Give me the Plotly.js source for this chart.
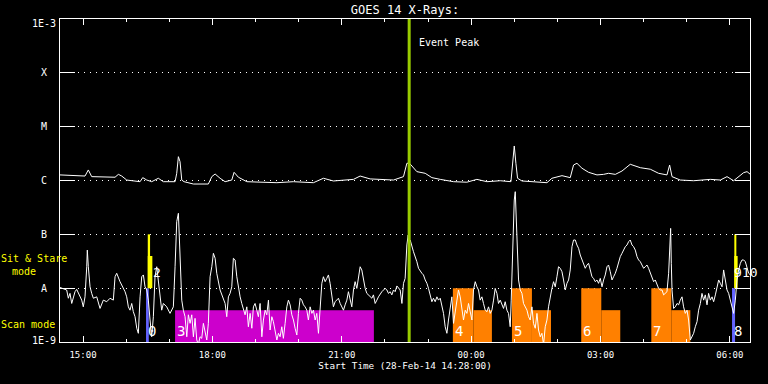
<!DOCTYPE html>
<html><head><meta charset="utf-8">
<script src="https://cdn.plot.ly/plotly-3.0.1.min.js"></script>
<style>html,body{margin:0;padding:0;background:#000;}#chart{width:768px;height:384px;}</style>
</head><body><div id="chart"></div>
<script>
// Start of the plotted interval (elapsed minutes below are counted from here)
const START_UTC = Date.UTC(2014, 1, 28, 14, 28, 0);
const SPAN_MIN = 960;

// GOES 14 long channel (1-8 Å), W/m^2
const longMin = [0,34.8,39.4,44.1,76.6,81.2,85.9,92.8,111.4,115.1,120.7,127.6,136.8,143.8,160.1,162.4,164.7,167.0,169.4,172.6,185.6,206.4,211.2,215.8,222.7,229.7,239.0,242.2,248.2,259.9,301.7,324.8,352.6,366.5,380.4,408.3,417.6,431.5,464.0,477.9,482.6,486.2,489.6,496.5,508.1,517.4,529.0,547.5,566.1,580.0,594.0,612.5,627.4,629.6,632.0,634.3,636.6,642.7,668.2,677.5,684.4,698.4,709.9,714.5,719.2,726.2,735.4,747.1,756.3,763.2,772.6,781.9,793.4,807.4,821.3,832.8,844.5,848.2,851.5,863.0,881.5,904.8,918.7,928.0,937.2,951.2,955.9,960.5];
const longFlux = [1.27e-6,1.21e-6,1.57e-6,1.18e-6,1.15e-6,1.30e-6,1.21e-6,1.02e-6,9.5e-7,1.13e-6,1.02e-6,9.5e-7,1.10e-6,9.5e-7,9.5e-7,1.36e-6,2.77e-6,2.24e-6,1.02e-6,9.5e-7,8.6e-7,8.6e-7,1.18e-6,1.32e-6,1.10e-6,9.5e-7,1.02e-6,1.42e-6,1.15e-6,9.5e-7,9.1e-7,9.5e-7,9.1e-7,1.10e-6,9.8e-7,1.05e-6,1.21e-6,1.07e-6,1.02e-6,1.18e-6,2.09e-6,2.09e-6,1.86e-6,1.46e-6,1.36e-6,1.13e-6,1.05e-6,9.5e-7,9.3e-7,1.05e-6,9.5e-7,9.9e-7,9.5e-7,2.09e-6,4.38e-6,2.09e-6,1.10e-6,9.8e-7,9.1e-7,9.1e-7,1.10e-6,1.23e-6,1.13e-6,1.94e-6,2.09e-6,1.69e-6,1.42e-6,1.27e-6,1.30e-6,1.36e-6,1.30e-6,1.50e-6,2.00e-6,1.73e-6,1.62e-6,1.36e-6,1.27e-6,1.94e-6,1.18e-6,1.02e-6,9.9e-7,1.05e-6,1.02e-6,1.18e-6,9.9e-7,1.40e-6,1.46e-6,1.30e-6];

// GOES 14 short channel (0.5-4 Å), W/m^2
const shortMin = [0,4.6,9.3,11.6,13.9,16.3,18.5,20.9,23.2,25.5,27.8,30.2,32.4,34.8,37.2,38.0,39.4,41.8,44.1,46.4,51.1,55.7,60.3,65.0,69.6,74.2,76.6,78.9,83.5,88.1,90.5,92.8,95.1,97.4,99.8,102.0,104.4,106.8,109.0,111.4,113.7,116.0,118.3,120.7,122.9,125.3,127.6,129.9,132.2,134.6,136.8,139.2,141.5,143.8,148.5,153.1,157.7,160.1,162.4,164.7,167.0,169.4,171.6,174.0,176.4,178.6,181.0,183.3,185.6,187.9,190.3,192.5,194.9,197.2,199.5,201.8,204.2,206.4,208.8,211.2,213.4,215.8,218.1,222.7,227.3,229.7,232.0,234.3,236.6,239.0,241.2,243.6,246.0,248.2,
250.6,252.9,255.2,257.5,259.9,262.1,264.5,266.9,269.1,271.4,273.8,276.0,278.4,280.8,283.0,285.4,287.7,290.0,292.3,294.7,296.9,299.3,301.7,303.9,306.2,308.6,310.8,313.2,315.6,317.8,320.2,322.5,324.8,327.1,329.5,331.7,334.1,336.4,338.7,341.0,343.4,345.6,348.0,350.4,352.6,355.0,357.3,359.6,361.9,364.3,366.5,368.9,371.2,373.5,375.8,378.2,380.4,382.8,385.1,387.4,389.8,392.1,394.4,396.7,399.1,401.3,403.7,406.0,408.3,410.6,413.0,415.2,417.6,419.9,422.2,424.6,426.9,429.2,433.9,436.1,438.5,440.9,443.1,447.8,452.4,454.8,457.0,459.4,461.7,464.0,466.3,468.7,470.9,473.3,475.7,477.9,480.2,482.6,484.4,485.8,487.2,
489.6,491.8,496.5,498.8,503.5,505.7,508.1,510.5,512.7,515.0,517.4,519.6,522.0,524.4,526.6,529.0,531.3,533.6,535.9,538.3,540.5,542.9,545.2,547.5,549.8,552.2,554.4,556.8,559.2,561.4,563.8,566.1,568.4,570.7,573.1,575.3,577.7,580.0,582.3,584.6,587.0,589.2,591.6,594.0,596.2,598.6,600.9,603.2,605.5,607.9,610.1,612.5,614.8,617.1,619.4,621.8,624.0,626.4,627.8,628.8,630.2,632.0,633.4,634.8,635.7,638.0,640.3,642.7,644.9,647.3,649.7,651.9,654.2,656.6,658.8,661.2,663.6,665.8,668.2,670.5,672.8,675.1,677.5,679.7,682.1,684.4,686.7,689.0,691.4,693.6,696.0,698.4,700.6,703.0,705.3,707.6,709.9,712.3,714.5,716.9,719.2,721.5,723.8,726.2,728.4,730.8,
733.2,735.4,737.8,740.1,742.4,744.7,747.1,749.3,751.7,754.1,756.3,758.6,761.0,763.2,765.6,768.0,770.2,772.6,774.9,777.2,779.5,781.9,784.1,786.5,788.9,791.1,793.4,795.8,798.0,800.4,802.8,805.0,807.4,809.7,812.0,814.3,816.7,818.9,821.3,823.6,825.9,828.2,830.6,832.8,835.2,837.6,839.8,842.2,844.5,846.8,848.2,849.6,850.5,851.5,853.7,856.1,858.5,860.7,863.0,865.4,867.6,870.0,872.4,874.6,877.0,879.3,881.6,883.9,886.3,888.5,890.9,893.2,895.5,897.8,900.2,902.4,904.8,907.2,909.4,911.8,914.1,916.4,918.7,921.1,923.3,925.7,928.0,930.3,932.6,935.0,937.2,939.6,941.9,944.2,946.6,948.9,951.2,953.5,955.9,958.1,960.5];
const shortFlux = [1.03e-8,9.9e-9,9.25e-9,6.5e-9,8.0e-9,5.2e-9,6.9e-9,8.6e-9,9.5e-9,8.0e-9,6.9e-9,6.0e-9,4.5e-9,6.9e-9,2.5e-8,5.1e-8,2.5e-8,1.06e-8,8.0e-9,6.5e-9,6.9e-9,4.2e-9,6.0e-9,5.6e-9,6.5e-9,6.0e-9,1.63e-8,1.89e-8,1.32e-8,9.9e-9,8.6e-9,6.9e-9,4.5e-9,3.9e-9,5.2e-9,3.66e-9,2.95e-9,1.8e-9,1.45e-9,6.9e-9,1.63e-8,1.76e-8,1.06e-8,9.25e-9,6.0e-9,2.56e-9,1.25e-9,2.95e-9,1.63e-8,2.5e-8,1.42e-8,6.9e-9,3.9e-9,5.2e-9,4.5e-9,3.4e-9,4.5e-9,2.5e-8,1.72e-7,2.46e-7,5.1e-8,6.0e-9,3.9e-9,2.95e-9,1.25e-9,3.2e-9,2.22e-9,3.2e-9,1.25e-9,2.75e-9,1.09e-9,9e-10,1.25e-9,1.17e-9,2.22e-9,1.45e-9,1.09e-9,2.22e-9,1.63e-8,2.5e-8,4.44e-8,3.59e-8,1.89e-8,9.25e-9,6.0e-9,5.2e-9,2.95e-9,6.9e-9,8.0e-9,1.06e-8,3.59e-8,3.34e-8,1.63e-8,1.06e-8,
6.9e-9,5.2e-9,3.9e-9,3.2e-9,4.5e-9,1.92e-9,3.4e-9,1.8e-9,4.5e-9,5.2e-9,3.9e-9,2.95e-9,5.2e-9,1.25e-9,2.56e-9,3.9e-9,3.2e-9,6.0e-9,1.67e-9,2.95e-9,2.38e-9,1.67e-9,1.09e-9,1.45e-9,1.25e-9,1.92e-9,1.17e-9,2.22e-9,4.5e-9,6.0e-9,4.9e-9,3.2e-9,2.56e-9,1.8e-9,1.35e-9,3.4e-9,6.5e-9,6.0e-9,4.9e-9,4.5e-9,3.9e-9,2.56e-9,4.5e-9,3.4e-9,3.9e-9,2.56e-9,3.4e-9,1.45e-9,3.9e-9,1.23e-8,1.63e-8,1.32e-8,1.52e-8,1.76e-8,1.23e-8,8.0e-9,4.5e-9,5.6e-9,6.0e-9,6.5e-9,5.2e-9,4.5e-9,3.9e-9,4.9e-9,6.0e-9,8.6e-9,6.0e-9,4.5e-9,9.25e-9,1.32e-8,9.9e-9,1.76e-8,2.5e-8,2.18e-8,1.42e-8,9.9e-9,8.0e-9,7.5e-9,6.5e-9,7.5e-9,5.2e-9,6.0e-9,6.9e-9,8.6e-9,9.9e-9,9.25e-9,8.0e-9,8.6e-9,7.5e-9,9.25e-9,8.6e-9,1.1e-8,9.9e-9,9.25e-9,5.2e-9,1.23e-8,1.52e-8,6.34e-8,9.7e-8,6.8e-8,7.85e-8,
6.34e-8,4.76e-8,3.10e-8,2.34e-8,1.89e-8,1.76e-8,1.42e-8,1.23e-8,9.9e-9,7.5e-9,5.6e-9,6.5e-9,5.6e-9,6.9e-9,6.0e-9,6.5e-9,4.5e-9,3.4e-9,1.92e-9,1.45e-9,2.56e-9,4.5e-9,6.9e-9,2.22e-9,3.66e-9,6.0e-9,9.25e-9,6.9e-9,4.5e-9,2.56e-9,3.9e-9,3.4e-9,5.2e-9,3.4e-9,2.56e-9,9.25e-9,1.32e-8,1.06e-8,9.25e-9,6.0e-9,6.9e-9,5.2e-9,3.9e-9,3.66e-9,4.5e-9,3.4e-9,3.9e-9,6.0e-9,9.9e-9,8.0e-9,5.2e-9,6.0e-9,4.9e-9,4.2e-9,5.6e-9,3.9e-9,3.4e-9,1.92e-9,6.0e-9,2.18e-8,1.04e-7,4.34e-7,6.2e-7,1.85e-7,5.89e-8,1.42e-8,9.25e-9,8.0e-9,5.2e-9,4.5e-9,3.9e-9,2.95e-9,2.56e-9,4.5e-9,2.22e-9,1.8e-9,3.4e-9,1.67e-9,1.25e-9,1.45e-9,9e-10,1.92e-9,2.56e-9,4.5e-9,7.5e-9,9.9e-9,1.32e-8,1.06e-8,1.63e-8,2.5e-8,2.34e-8,2.02e-8,1.42e-8,9.25e-9,1.23e-8,1.42e-8,2.18e-8,5.89e-8,7.85e-8,7.85e-8,6.34e-8,5.5e-8,4.13e-8,3.34e-8,2.9e-8,2.34e-8,
2.69e-8,2.9e-8,2.18e-8,1.63e-8,1.52e-8,1.32e-8,1.42e-8,1.23e-8,1.52e-8,1.06e-8,1.42e-8,1.76e-8,2.5e-8,2.69e-8,2.02e-8,1.42e-8,1.63e-8,1.89e-8,2.34e-8,3.1e-8,3.85e-8,4.44e-8,5.1e-8,5.9e-8,6.34e-8,7.3e-8,7.85e-8,6.34e-8,5.9e-8,5.1e-8,3.85e-8,3.34e-8,3.1e-8,2.69e-8,2.34e-8,2.5e-8,2.69e-8,2.34e-8,1.89e-8,1.63e-8,1.32e-8,1.42e-8,1.15e-8,9.9e-9,9.25e-9,9.25e-9,7.5e-9,8.0e-9,8.6e-9,1.89e-8,5.9e-8,1.29e-7,2.9e-8,9.25e-9,4.2e-9,4.5e-9,5.2e-9,4.9e-9,6.0e-9,6.9e-9,4.5e-9,3.4e-9,3.9e-9,2.56e-9,1.09e-9,1.25e-9,1.45e-9,1.92e-9,2.38e-9,3.9e-9,5.2e-9,8.0e-9,6.0e-9,7.5e-9,4.9e-9,8.0e-9,6.0e-9,6.9e-9,5.6e-9,7.5e-9,1.06e-8,1.42e-8,1.23e-8,1.06e-8,2.18e-8,1.42e-8,9.25e-9,8.0e-9,6.0e-9,4.5e-9,3.4e-9,6.0e-9,1.42e-8,2.18e-8,2.9e-8,3.34e-8,3.34e-8,3.1e-8,2.34e-8,1.89e-8,1.76e-8];

// Flare-class axis labels
const yTickVals = [1e-9,1e-8,1e-7,1e-6,1e-5,1e-4,1e-3];
const yTickText = ['1E-9','A','B','C','M','X','1E-3'];

// Event peak (elapsed minutes)
const eventPeakMin = 485.8;

// Observation-mode blocks: start/end (elapsed minutes), flux span, kind
const obsStart = [119.7,122.1,122.1,160.1,546.6,575.3,628.8,656.6,725.2,753.1,822.7,850.5,935.0,938.2,938.2];
const obsEnd   = [123.5,125.3,128.5,436.7,575.3,600.9,656.6,683.1,753.1,779.5,850.5,877.0,939.2,941.0,942.8];
const obsLow   = [1e-9,1e-8,1e-8,1e-9,1e-9,1e-9,1e-9,1e-9,1e-9,1e-9,1e-9,1e-9,1e-9,1e-8,1e-8];
const obsHigh  = [1e-8,1e-7,3.96e-8,3.9e-9,1e-8,3.9e-9,1e-8,3.9e-9,1e-8,3.9e-9,1e-8,3.9e-9,1e-8,1e-7,3.96e-8];
const obsKind  = ['point','stare','stare','scanA','scan','scan','scan','scan','scan','scan','scan','scan','point','stare','stare'];

// Observation ids and the block each one belongs to
const obsLabel      = ['0','2','3','4','5','6','7','8','9','10'];
const obsLabelBlock = [0,1,3,4,6,8,10,12,13,13];

// ---------- drawing ----------
const FONT = 'DejaVu Sans Mono';
const kindColor = {point:'#6464ff', stare:'#ffff00', scanA:'#cc00cc', scan:'#ff8000'};
const toT = m => START_UTC + m * 60000;

const traces = [];
for (let i = 0; i < obsStart.length; i++) {
  const s = toT(obsStart[i]), e = toT(obsEnd[i]);
  traces.push({
    type:'scatter', mode:'lines', x:[s,e,e,s,s],
    y:[obsLow[i],obsLow[i],obsHigh[i],obsHigh[i],obsLow[i]],
    fill:'toself', fillcolor:kindColor[obsKind[i]], line:{width:0, color:kindColor[obsKind[i]]},
    hoverinfo:'skip'
  });
}
traces.push({type:'scatter', mode:'lines', x:longMin.map(toT), y:longFlux, line:{color:'#ffffff', width:1}});
traces.push({type:'scatter', mode:'lines', x:shortMin.map(toT), y:shortFlux, line:{color:'#ffffff', width:1}});

const annotations = [];
// y-axis class labels (centred in left margin)
yTickVals.forEach((v, i) => {
  annotations.push({xref:'paper', yref:'y', x:-0.0232, y:Math.log10(v), text:yTickText[i],
    showarrow:false, xanchor:'center', yanchor:'middle',
    yshift: i === yTickVals.length - 1 ? -4 : (i === 0 ? 2 : 0),
    font:{family:FONT, size:10, color:'#ffffff'}});
});
// observation id labels
obsLabel.forEach((t, i) => {
  const b = obsLabelBlock[i];
  const k = obsKind[b];
  if (k === 'stare') {
    const yMid = (Math.log10(1e-8) + Math.log10(3.96e-8)) / 2;
    annotations.push({xref:'x', yref:'y', x:toT(obsEnd[b]), y:yMid, text:t, showarrow:false,
      xanchor:'left', yanchor:'middle', xshift: t === '10' ? 5 : (t === '9' ? -3 : 2),
      borderpad:0,
      font:{family:FONT, size:13, color:'#ffffff'}});
  } else {
    annotations.push({xref:'x', yref:'y', x:toT(obsStart[b]), y:-9, text:t, showarrow:false,
      xanchor:'left', yanchor:'bottom', xshift:0, yshift:1,
      font:{family:FONT, size:14, color:'#ffffff'}});
  }
});
// Event peak label
annotations.push({xref:'x', yref:'paper', x:toT(eventPeakMin), y:0.926, text:'Event Peak',
  showarrow:false, xanchor:'left', yanchor:'middle', xshift:8,
  font:{family:FONT, size:10, color:'#ffffff'}});
// mode legends in left margin
annotations.push({xref:'paper', yref:'paper', x:-0.0377, y:0.257, text:'Sit & Stare', showarrow:false,
  xanchor:'center', yanchor:'middle', font:{family:FONT, size:10, color:'#ffff00'}});
annotations.push({xref:'paper', yref:'paper', x:-0.0517, y:0.2198, text:'mode', showarrow:false,
  xanchor:'center', yanchor:'middle', font:{family:FONT, size:10, color:'#ffff00'}});
annotations.push({xref:'paper', yref:'paper', x:-0.0458, y:0.0548, text:'Scan mode', showarrow:false,
  xanchor:'center', yanchor:'middle', font:{family:FONT, size:10, color:'#ffff00'}});

const layout = {
  width:768, height:384,
  paper_bgcolor:'#000000', plot_bgcolor:'#000000',
  margin:{l:60, r:18, t:19, b:42, pad:0},
  showlegend:false, hovermode:false,
  title:{text:'GOES 14 X-Rays:', font:{family:FONT, size:12, color:'#ffffff'},
    x:0.5, xref:'paper', xanchor:'center', y:0.974, yref:'container', yanchor:'middle'},
  xaxis:{
    type:'date', range:[toT(0), toT(SPAN_MIN)], autorange:false,
    tick0:Date.UTC(2014,1,28,15,0,0), dtick:3*3600000, tickformat:'%H:%M',
    ticks:'inside', ticklen:6, tickcolor:'#ffffff', tickwidth:1,
    minor:{dtick:3600000, tick0:Date.UTC(2014,1,28,15,0,0), ticks:'inside', ticklen:3, tickcolor:'#ffffff', tickwidth:1, showgrid:false},
    showline:true, linecolor:'#ffffff', linewidth:1, mirror:'allticks',
    showgrid:false, zeroline:false, ticklabelstandoff:4,
    tickfont:{family:FONT, size:9, color:'#ffffff'},
    title:{text:'Start Time (28-Feb-14 14:28:00)', font:{family:FONT, size:9.3, color:'#ffffff'}, standoff:2}
  },
  yaxis:{
    type:'log', range:[-9,-3], autorange:false,
    tickvals:yTickVals, ticktext:yTickText, showticklabels:false,
    ticks:'inside', ticklen:15, tickcolor:'#ffffff', tickwidth:1,
    showline:true, linecolor:'#ffffff', linewidth:1, mirror:'ticks',
    showgrid:true, gridcolor:'#ffffff', gridwidth:1, griddash:'1px,5px', zeroline:false
  },
  shapes:[{type:'line', xref:'x', yref:'paper', x0:toT(eventPeakMin), x1:toT(eventPeakMin), y0:0, y1:1,
    line:{color:'#99cc00', width:3}, layer:'above'}],
  annotations:annotations
};

Plotly.newPlot('chart', traces, layout, {staticPlot:true, displayModeBar:false});
</script>
</body></html>
